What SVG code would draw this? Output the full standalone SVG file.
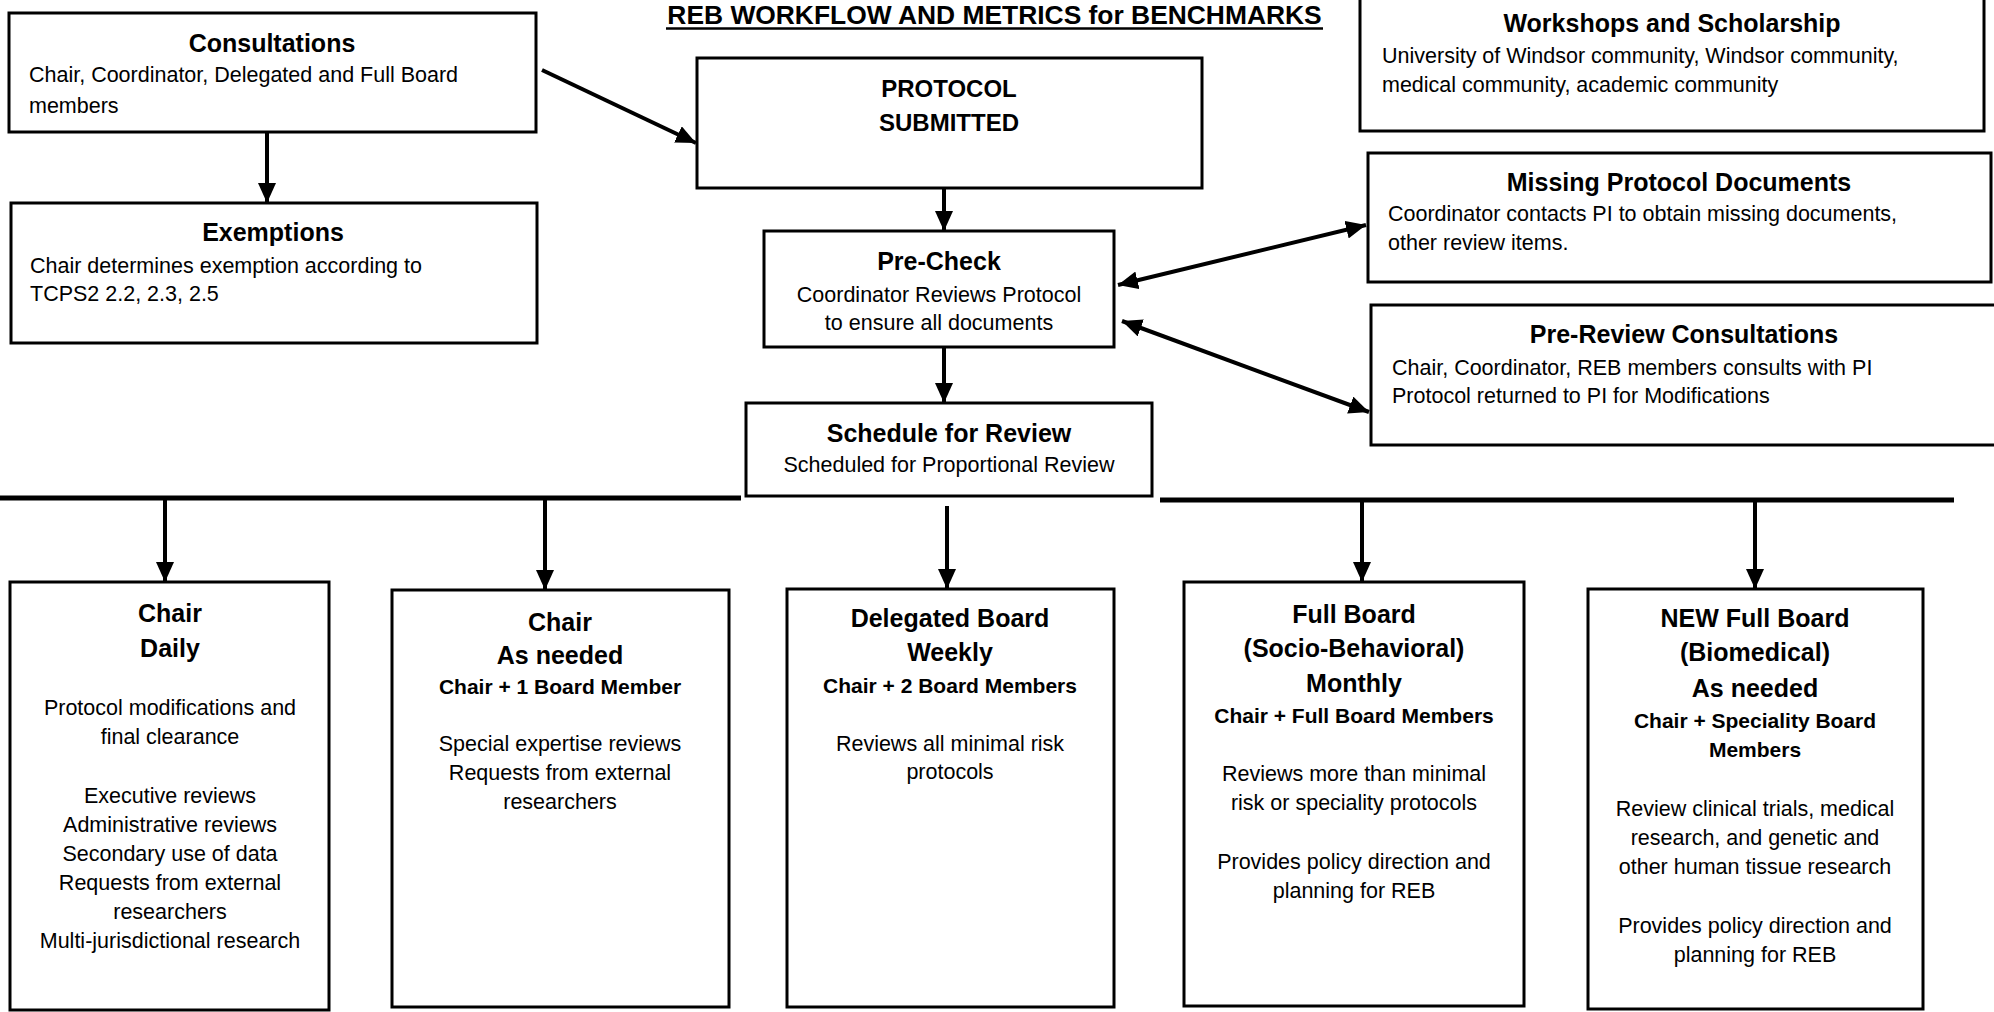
<svg xmlns="http://www.w3.org/2000/svg" width="1994" height="1012" viewBox="0 0 1994 1012">
  <style>
    text { font-family: "Liberation Sans", Arial, sans-serif; fill: #000; }
    .box { fill: #fff; stroke: #000; stroke-width: 3; }
    .h { font-weight: bold; font-size: 25px; text-anchor: middle; }
    .p { font-weight: bold; font-size: 24px; text-anchor: middle; }
    .sh { font-weight: bold; font-size: 21px; text-anchor: middle; }
    .b { font-size: 21.5px; }
    .c { text-anchor: middle; }
    .conn { stroke: #000; stroke-width: 4; fill: none; }
    .bar { stroke: #000; stroke-width: 5; fill: none; }
  </style>
  <defs>
    <marker id="ah" markerUnits="userSpaceOnUse" markerWidth="20" markerHeight="18" refX="20" refY="9" orient="auto-start-reverse">
      <path d="M0,0 L20,9 L0,18 z" fill="#000"/>
    </marker>
  </defs>

  <rect width="1994" height="1012" fill="#fff"/>

  <!-- heading -->
  <g id="title">
    <text x="994.5" y="24" font-weight="bold" font-size="26.4" text-anchor="middle">REB WORKFLOW AND METRICS for BENCHMARKS</text>
    <line x1="666" y1="28.5" x2="1323" y2="28.5" stroke="#000" stroke-width="2.5"/>
  </g>

  <!-- connectors -->
  <g id="connectors">
    <line class="conn" x1="267" y1="132" x2="267" y2="203" marker-end="url(#ah)"/>
    <line class="conn" x1="542" y1="70" x2="696" y2="143" marker-end="url(#ah)"/>
    <line class="conn" x1="944" y1="188" x2="944" y2="231" marker-end="url(#ah)"/>
    <line class="conn" x1="944" y1="347" x2="944" y2="403" marker-end="url(#ah)"/>
    <line class="conn" x1="1118" y1="285" x2="1366" y2="225" marker-start="url(#ah)" marker-end="url(#ah)"/>
    <line class="conn" x1="1122" y1="321" x2="1369" y2="412" marker-start="url(#ah)" marker-end="url(#ah)"/>
    <line class="bar" x1="0" y1="498" x2="741" y2="498"/>
    <line class="bar" x1="1160" y1="500" x2="1954" y2="500"/>
    <line class="conn" x1="165" y1="498" x2="165" y2="582" marker-end="url(#ah)"/>
    <line class="conn" x1="545" y1="498" x2="545" y2="590" marker-end="url(#ah)"/>
    <line class="conn" x1="947" y1="506" x2="947" y2="589" marker-end="url(#ah)"/>
    <line class="conn" x1="1362" y1="500" x2="1362" y2="582" marker-end="url(#ah)"/>
    <line class="conn" x1="1755" y1="500" x2="1755" y2="589" marker-end="url(#ah)"/>
  </g>

  <g id="consultations">
    <rect class="box" x="9" y="13" width="527" height="119"/>
    <text class="h" x="272" y="52">Consultations</text>
    <text class="b" x="29" y="82">Chair, Coordinator, Delegated and Full Board</text>
    <text class="b" x="29" y="113">members</text>
  </g>

  <g id="exemptions">
    <rect class="box" x="11" y="203" width="526" height="140"/>
    <text class="h" x="273" y="241">Exemptions</text>
    <text class="b" x="30" y="273">Chair determines exemption according to</text>
    <text class="b" x="30" y="301">TCPS2 2.2, 2.3, 2.5</text>
  </g>

  <g id="protocol-submitted">
    <rect class="box" x="697" y="58" width="505" height="130"/>
    <text class="p" x="949" y="97">PROTOCOL</text>
    <text class="p" x="949" y="131">SUBMITTED</text>
  </g>

  <g id="pre-check">
    <rect class="box" x="764" y="231" width="350" height="116"/>
    <text class="h" x="939" y="270">Pre-Check</text>
    <text class="b c" x="939" y="302">Coordinator Reviews Protocol</text>
    <text class="b c" x="939" y="330">to ensure all documents</text>
  </g>

  <g id="schedule">
    <rect class="box" x="746" y="403" width="406" height="93"/>
    <text class="h" x="949" y="442">Schedule for Review</text>
    <text class="b c" x="949" y="472">Scheduled for Proportional Review</text>
  </g>

  <g id="workshops">
    <rect class="box" x="1360" y="-4" width="624" height="135"/>
    <text class="h" x="1672" y="32">Workshops and Scholarship</text>
    <text class="b" x="1382" y="63">University of Windsor community, Windsor community,</text>
    <text class="b" x="1382" y="92">medical community, academic community</text>
  </g>

  <g id="missing-documents">
    <rect class="box" x="1368" y="153" width="623" height="129"/>
    <text class="h" x="1679" y="191">Missing Protocol Documents</text>
    <text class="b" x="1388" y="221">Coordinator contacts PI to obtain missing documents,</text>
    <text class="b" x="1388" y="250">other review items.</text>
  </g>

  <g id="pre-review">
    <rect class="box" x="1371" y="305" width="630" height="140"/>
    <text class="h" x="1684" y="343">Pre-Review Consultations</text>
    <text class="b" x="1392" y="375">Chair, Coordinator, REB members consults with PI</text>
    <text class="b" x="1392" y="403">Protocol returned to PI for Modifications</text>
  </g>

  <g id="chair-daily">
    <rect class="box" x="10" y="582" width="319" height="428"/>
    <text class="h" x="170" y="622">Chair</text>
    <text class="h" x="170" y="657">Daily</text>
    <text class="b c" x="170" y="715">Protocol modifications and</text>
    <text class="b c" x="170" y="744">final clearance</text>
    <text class="b c" x="170" y="803">Executive reviews</text>
    <text class="b c" x="170" y="832">Administrative reviews</text>
    <text class="b c" x="170" y="861">Secondary use of data</text>
    <text class="b c" x="170" y="890">Requests from external</text>
    <text class="b c" x="170" y="919">researchers</text>
    <text class="b c" x="170" y="948">Multi-jurisdictional research</text>
  </g>

  <g id="chair-as-needed">
    <rect class="box" x="392" y="590" width="337" height="417"/>
    <text class="h" x="560" y="631">Chair</text>
    <text class="h" x="560" y="664">As needed</text>
    <text class="sh" x="560" y="694">Chair + 1 Board Member</text>
    <text class="b c" x="560" y="751">Special expertise reviews</text>
    <text class="b c" x="560" y="780">Requests from external</text>
    <text class="b c" x="560" y="809">researchers</text>
  </g>

  <g id="delegated-board">
    <rect class="box" x="787" y="589" width="327" height="418"/>
    <text class="h" x="950" y="627">Delegated Board</text>
    <text class="h" x="950" y="661">Weekly</text>
    <text class="sh" x="950" y="693">Chair + 2 Board Members</text>
    <text class="b c" x="950" y="751">Reviews all minimal risk</text>
    <text class="b c" x="950" y="779">protocols</text>
  </g>

  <g id="full-board">
    <rect class="box" x="1184" y="582" width="340" height="424"/>
    <text class="h" x="1354" y="623">Full Board</text>
    <text class="h" x="1354" y="657">(Socio-Behavioral)</text>
    <text class="h" x="1354" y="692">Monthly</text>
    <text class="sh" x="1354" y="723">Chair + Full Board Members</text>
    <text class="b c" x="1354" y="781">Reviews more than minimal</text>
    <text class="b c" x="1354" y="810">risk or speciality protocols</text>
    <text class="b c" x="1354" y="869">Provides policy direction and</text>
    <text class="b c" x="1354" y="898">planning for REB</text>
  </g>

  <g id="new-full-board">
    <rect class="box" x="1588" y="589" width="335" height="420"/>
    <text class="h" x="1755" y="627">NEW Full Board</text>
    <text class="h" x="1755" y="661">(Biomedical)</text>
    <text class="h" x="1755" y="697">As needed</text>
    <text class="sh" x="1755" y="728">Chair + Speciality Board</text>
    <text class="sh" x="1755" y="757">Members</text>
    <text class="b c" x="1755" y="816">Review clinical trials, medical</text>
    <text class="b c" x="1755" y="845">research, and genetic and</text>
    <text class="b c" x="1755" y="874">other human tissue research</text>
    <text class="b c" x="1755" y="933">Provides policy direction and</text>
    <text class="b c" x="1755" y="962">planning for REB</text>
  </g>
</svg>
